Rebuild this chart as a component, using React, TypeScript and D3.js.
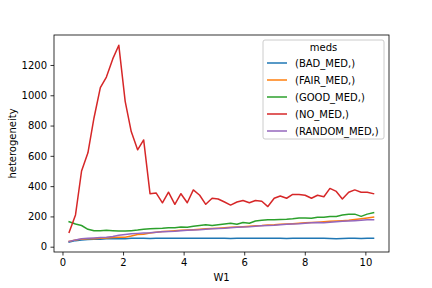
import React, { useRef, useEffect } from 'react';
import * as d3 from 'd3';

const W1 = [
  0.22, 0.43, 0.63, 0.84, 1.04, 1.25, 1.45, 1.66, 1.86, 2.07,
  2.27, 2.48, 2.68, 2.89, 3.09, 3.30, 3.50, 3.71, 3.91, 4.12,
  4.32, 4.53, 4.73, 4.94, 5.14, 5.35, 5.55, 5.76, 5.96, 6.17,
  6.37, 6.58, 6.78, 6.99, 7.19, 7.40, 7.60, 7.81, 8.01, 8.22,
  8.42, 8.63, 8.83, 9.04, 9.24, 9.45, 9.65, 9.86, 10.06, 10.27,
];

const badMed = [
  30, 40, 45, 48, 50, 50, 52, 52, 53, 53, 55, 55, 55, 54, 55, 55, 56, 55, 55, 55,
  56, 56, 55, 55, 56, 55, 54, 55, 55, 56, 56, 55, 55, 55, 55, 54, 55, 56, 55, 55,
  55, 55, 54, 53, 54, 55, 55, 54, 55, 56,
];
const fairMed = [
  35, 45, 50, 52, 53, 55, 57, 60, 62, 62, 70, 80, 82, 90, 95, 100, 102, 105, 108, 110,
  112, 115, 118, 120, 122, 125, 128, 130, 132, 135, 138, 140, 143, 145, 148, 150, 152, 155, 158, 160,
  162, 165, 168, 170, 172, 175, 180, 185, 190, 195,
];
const goodMed = [
  165, 150, 140, 115, 105, 105, 108, 105, 103, 103, 106, 110, 115, 118, 120, 122, 125, 125, 130, 128,
  135, 140, 145, 140, 145, 150, 155, 148, 160, 155, 170, 175, 178, 178, 180, 182, 185, 190, 190, 188,
  195, 195, 200, 200, 210, 215, 215, 200, 215, 225,
];
const noMed = [
  95, 210, 500, 620, 850, 1050, 1120, 1240, 1330, 960, 760, 640, 705, 350, 355, 290, 360, 280, 350, 290,
  375, 340, 280, 320, 315, 295, 275, 295, 305, 290, 305, 300, 265, 320, 335, 320, 345, 345, 340, 320,
  340, 330, 385, 365, 315, 360, 375, 360, 360, 350,
];
const randomMed = [
  35, 45, 52, 55, 58, 60, 62, 68, 75, 80, 85, 88, 90, 92, 95, 98, 100, 102, 105, 108,
  110, 112, 115, 118, 120, 122, 125, 128, 130, 132, 135, 138, 140, 142, 145, 148, 150, 152, 155, 158,
  160, 158, 162, 165, 168, 170, 172, 175, 178, 178,
];

const seriesNames = ['(BAD_MED,)', '(FAIR_MED,)', '(GOOD_MED,)', '(NO_MED,)', '(RANDOM_MED,)'];
const seriesValues = [badMed, fairMed, goodMed, noMed, randomMed];
const colors = ['#1f77b4', '#ff7f0e', '#2ca02c', '#d62728', '#9467bd'];
const xTicks = [0, 2, 4, 6, 8, 10];
const yTicks = [0, 200, 400, 600, 800, 1000, 1200];

const width = 432;
const height = 288;
const margin = { top: 35, right: 43, bottom: 36, left: 54 };

const App = () => {
  const svgRef = useRef<SVGSVGElement>(null);

  useEffect(() => {
    if (!svgRef.current) return;
    const svg = d3.select(svgRef.current);
    svg.selectAll('*').remove();

    const font = 'DejaVu Sans, sans-serif';
    const x0 = margin.left;
    const x1 = width - margin.right;
    const y0 = margin.top;
    const y1 = height - margin.bottom;

    const x = d3.scaleLinear().domain([-0.28, 10.78]).range([x0, x1]);
    const y = d3.scaleLinear().domain([-35, 1398]).range([y1, y0]);

    svg.append('rect').attr('width', width).attr('height', height).attr('fill', '#fff');

    // lines
    const line = d3.line<number>()
      .x((_, i) => x(W1[i]))
      .y(d => y(d));
    seriesValues.forEach((vals, i) => {
      svg.append('path')
        .attr('d', line(vals))
        .attr('fill', 'none')
        .attr('stroke', colors[i])
        .attr('stroke-width', 1.5)
        .attr('stroke-linejoin', 'round')
        .attr('stroke-linecap', 'square');
    });

    // axes
    const xAxis = svg.append('g')
      .attr('transform', `translate(0,${y1})`)
      .call(d3.axisBottom(x).tickValues(xTicks).tickSize(3.5).tickPadding(3.5).tickFormat(d3.format('d')));
    const yAxis = svg.append('g')
      .attr('transform', `translate(${x0},0)`)
      .call(d3.axisLeft(y).tickValues(yTicks).tickSize(3.5).tickPadding(3.5).tickFormat(d3.format('d')));
    [xAxis, yAxis].forEach(ax => {
      ax.select('.domain').remove();
      ax.selectAll('line').attr('stroke', '#000').attr('stroke-width', 0.8);
      ax.selectAll('text').attr('font-family', font).attr('font-size', 10).attr('fill', '#000');
    });

    svg.append('rect')
      .attr('x', x0).attr('y', y0)
      .attr('width', x1 - x0).attr('height', y1 - y0)
      .attr('fill', 'none').attr('stroke', '#000').attr('stroke-width', 0.8);

    svg.append('text')
      .attr('x', (x0 + x1) / 2).attr('y', 281)
      .attr('text-anchor', 'middle')
      .attr('font-family', font).attr('font-size', 10)
      .text('W1');
    svg.append('text')
      .attr('transform', `translate(16,${(y0 + y1) / 2}) rotate(-90)`)
      .attr('text-anchor', 'middle')
      .attr('font-family', font).attr('font-size', 10)
      .text('heterogeneity');

    // legend
    const lg = svg.append('g');
    const lx = 263, ly = 40, lw = 121, lh = 99;
    lg.append('rect')
      .attr('x', lx).attr('y', ly).attr('width', lw).attr('height', lh)
      .attr('rx', 2).attr('fill', '#fff').attr('fill-opacity', 0.8)
      .attr('stroke', '#ccc').attr('stroke-width', 1);
    lg.append('text')
      .attr('x', lx + lw / 2).attr('y', ly + 11)
      .attr('text-anchor', 'middle')
      .attr('font-family', font).attr('font-size', 10)
      .text('meds');
    seriesNames.forEach((name, i) => {
      const ry = ly + 23 + i * 17;
      lg.append('line')
        .attr('x1', lx + 4).attr('x2', lx + 24)
        .attr('y1', ry).attr('y2', ry)
        .attr('stroke', colors[i]).attr('stroke-width', 1.5);
      lg.append('text')
        .attr('x', lx + 32).attr('y', ry + 3.5)
        .attr('font-family', font).attr('font-size', 10)
        .text(name);
    });
  }, []);

  return (
    <svg
      ref={svgRef}
      width={width}
      height={height}
      style={{ position: 'absolute', left: 0, top: 0, display: 'block' }}
    />
  );
};

export default App;
